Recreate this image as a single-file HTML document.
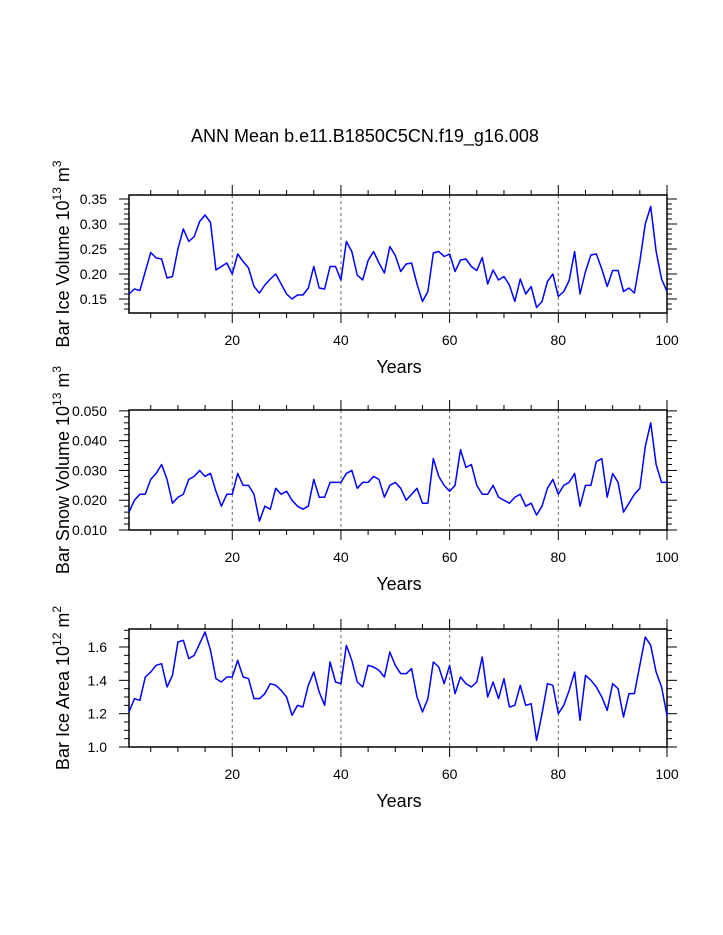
<!DOCTYPE html>
<html><head><meta charset="utf-8"><style>
body{margin:0;background:#fff;}
svg{display:block;font-family:"Liberation Sans",sans-serif;}
</style></head><body>
<svg id="chart" width="723" height="935">
<text x="365" y="142" font-size="18" text-anchor="middle">ANN Mean b.e11.B1850C5CN.f19_g16.008</text>
</svg>
<script>
const years = Array.from({length:100},(_, i)=>i+1);
const iceVolume = [0.160,0.170,0.167,0.205,0.243,0.232,0.230,0.192,0.195,0.250,0.290,0.265,0.275,0.305,0.318,0.303,0.208,0.215,0.222,0.200,0.240,0.225,0.212,0.175,0.162,0.178,0.190,0.200,0.180,0.160,0.150,0.158,0.158,0.172,0.215,0.172,0.170,0.215,0.215,0.188,0.265,0.245,0.198,0.188,0.227,0.245,0.222,0.202,0.255,0.237,0.205,0.220,0.222,0.180,0.145,0.165,0.242,0.245,0.235,0.240,0.205,0.228,0.230,0.215,0.207,0.233,0.180,0.208,0.188,0.195,0.178,0.145,0.190,0.160,0.175,0.133,0.145,0.185,0.200,0.155,0.165,0.187,0.245,0.160,0.205,0.238,0.240,0.210,0.175,0.207,0.207,0.165,0.172,0.162,0.225,0.300,0.335,0.245,0.190,0.165];
const snowVolume = [0.016,0.020,0.022,0.022,0.027,0.029,0.032,0.027,0.019,0.021,0.022,0.027,0.028,0.030,0.028,0.029,0.023,0.018,0.022,0.022,0.029,0.025,0.025,0.022,0.013,0.018,0.017,0.024,0.022,0.023,0.020,0.018,0.017,0.018,0.027,0.021,0.021,0.026,0.026,0.026,0.029,0.030,0.024,0.026,0.026,0.028,0.027,0.021,0.025,0.026,0.024,0.020,0.022,0.024,0.019,0.019,0.034,0.028,0.025,0.023,0.025,0.037,0.031,0.032,0.025,0.022,0.022,0.025,0.021,0.020,0.019,0.021,0.022,0.018,0.019,0.015,0.018,0.024,0.027,0.022,0.025,0.026,0.029,0.018,0.025,0.025,0.033,0.034,0.021,0.029,0.026,0.016,0.019,0.022,0.024,0.038,0.046,0.032,0.026,0.026];
const iceArea = [1.21,1.29,1.28,1.42,1.45,1.49,1.50,1.36,1.43,1.63,1.64,1.53,1.55,1.62,1.69,1.58,1.41,1.39,1.42,1.42,1.52,1.42,1.41,1.29,1.29,1.32,1.38,1.37,1.34,1.30,1.19,1.25,1.24,1.37,1.45,1.33,1.25,1.51,1.39,1.38,1.61,1.52,1.39,1.36,1.49,1.48,1.46,1.42,1.57,1.49,1.44,1.44,1.47,1.30,1.21,1.29,1.51,1.48,1.38,1.49,1.32,1.42,1.38,1.36,1.39,1.54,1.30,1.39,1.29,1.41,1.24,1.25,1.37,1.25,1.26,1.04,1.20,1.38,1.37,1.20,1.25,1.34,1.45,1.16,1.43,1.40,1.36,1.30,1.22,1.38,1.35,1.18,1.32,1.32,1.49,1.66,1.61,1.45,1.36,1.19];
const xTicks = [20,40,60,80,100];
const ticks1 = [0.15,0.20,0.25,0.30,0.35];
const ticks2 = [0.010,0.020,0.030,0.040,0.050];
const ticks3 = [1.0,1.2,1.4,1.6];

const NS="http://www.w3.org/2000/svg";
const svg=document.getElementById('chart');
function mk(tag,attrs,parent){const e=document.createElementNS(NS,tag);for(const k in attrs)e.setAttribute(k,attrs[k]);(parent||svg).appendChild(e);return e;}

const X0=129,X1=667;
const xs=v=>X0+(v-1)*(X1-X0)/99;

function panel(name,top,bot,ymin,ymax,data,yticks,fmt,minorStep,labelMain,labelExp,labelUnit){
  const g=mk('g',{});
  
  
  const ys=v=>bot-(v-ymin)*(bot-top)/(ymax-ymin);
  // grid
  [20,40,60,80].forEach(t=>{
    const l=mk('line',{x1:xs(t),x2:xs(t),y1:top,y2:bot,stroke:'#666','stroke-width':1,'stroke-dasharray':'3,3'},g);
    
    
  });
  // x ticks
  for(let t=5;t<=100;t+=5){
    const major=t%20===0, len=major?10:5;
    mk('line',{x1:xs(t),x2:xs(t),y1:bot,y2:bot+len,stroke:'#000','stroke-width':1},g);
    mk('line',{x1:xs(t),x2:xs(t),y1:top,y2:top-len,stroke:'#000','stroke-width':1},g);
  }
  xTicks.forEach(t=>{
    const tx=mk('text',{x:xs(t),y:bot+32,'font-size':14,'text-anchor':'middle'},g);
    tx.textContent=t;
    
    
  });
  // y minor ticks
  const n=Math.round((ymax-ymin)/minorStep);
  const start=Math.ceil(ymin/minorStep-1e-6);
  for(let k=start;k*minorStep<=ymax+1e-9;k++){
    const v=k*minorStep, y=ys(v);
    const isMajor=yticks.some(t=>Math.abs(t-v)<1e-9), len=isMajor?10:5;
    mk('line',{x1:X0,x2:X0-len,y1:y,y2:y,stroke:'#000','stroke-width':1},g);
    mk('line',{x1:X1,x2:X1+len,y1:y,y2:y,stroke:'#000','stroke-width':1},g);
  }
  yticks.forEach(t=>{
    const tx=mk('text',{x:X0-22,y:ys(t)+5,'font-size':14,'text-anchor':'end'},g);
    tx.textContent=t.toFixed(fmt);
    
    
  });
  // frame
  const r=mk('rect',{x:X0,y:top,width:X1-X0,height:bot-top,fill:'none',stroke:'#000','stroke-width':1.5},g);
  
  
  // line
  const p=mk('polyline',{points:data.map((v,i)=>xs(years[i])+','+ys(v)).join(' '),fill:'none',stroke:'#0000ff','stroke-width':1.5,'stroke-linejoin':'round'},g);
  
  
  // x title
  const xt=mk('text',{x:(X0+X1)/2+1,y:bot+60,'font-size':18,'text-anchor':'middle'},g);
  xt.textContent='Years';
  
  
  // y title
  const cy=(top+bot)/2;
  const yt=mk('text',{x:0,y:0,'font-size':18,'text-anchor':'middle',transform:`translate(69,${cy}) rotate(-90)`},g);
  
  
  yt.innerHTML=labelMain+' 10<tspan dy="-8" font-size="12">'+labelExp+'</tspan><tspan dy="8"> m</tspan><tspan dy="-8" font-size="12">'+labelUnit+'</tspan>';
}
panel('ice-volume',195,313,0.122,0.358,iceVolume,ticks1,2,0.01,'Bar Ice Volume','13','3');
panel('snow-volume',410,530,0.010,0.0503,snowVolume,ticks2,3,0.002,'Bar Snow Volume','13','3');
panel('ice-area',629,747,1.0,1.708,iceArea,ticks3,1,0.05,'Bar Ice Area','12','2');
</script>
</body></html>
